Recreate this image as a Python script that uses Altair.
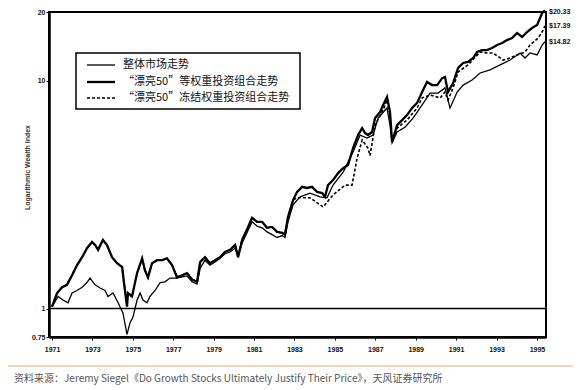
import altair as alt
import pandas as pd

# ---- data ----
ew_years = [1971.00, 1971.25, 1971.50, 1971.74, 1971.99, 1972.24, 1972.49, 1972.73, 1972.98, 1973.13,
            1973.28, 1973.52, 1973.72, 1973.97, 1974.22, 1974.47, 1974.56, 1974.71, 1974.76, 1974.96,
            1975.21, 1975.46, 1975.60, 1975.75, 1975.95, 1976.20, 1976.45, 1976.69, 1976.94, 1977.19,
            1977.44, 1977.68, 1977.93, 1978.18, 1978.33, 1978.57, 1978.82, 1979.07, 1979.32, 1979.56,
            1979.81, 1980.06, 1980.21, 1980.41, 1980.65, 1980.90, 1981.15, 1981.40, 1981.64, 1981.89,
            1982.14, 1982.39, 1982.53, 1982.68, 1982.93, 1983.13, 1983.38, 1983.62, 1983.87, 1984.12,
            1984.37, 1984.51, 1984.66, 1984.91, 1985.16, 1985.41, 1985.65, 1985.90, 1986.15, 1986.35,
            1986.49, 1986.64, 1986.84, 1986.99, 1987.24, 1987.39, 1987.58, 1987.73, 1987.83, 1988.08,
            1988.33, 1988.57, 1988.82, 1989.07, 1989.32, 1989.56, 1989.81, 1990.06, 1990.31, 1990.45,
            1990.60, 1990.85, 1991.10, 1991.35, 1991.59, 1991.84, 1992.04, 1992.29, 1992.53, 1992.78,
            1993.03, 1993.28, 1993.52, 1993.77, 1994.02, 1994.27, 1994.51, 1994.76, 1995.01, 1995.26,
            1995.40]
ew_values = [1.02, 1.17, 1.24, 1.27, 1.40, 1.55, 1.68, 1.84, 1.96, 1.90,
             1.81, 2.00, 1.90, 1.68, 1.58, 1.52, 1.30, 1.02, 1.17, 1.13,
             1.43, 1.66, 1.47, 1.37, 1.58, 1.63, 1.63, 1.66, 1.55, 1.37,
             1.40, 1.43, 1.34, 1.31, 1.60, 1.68, 1.58, 1.63, 1.68, 1.77,
             1.81, 1.90, 1.68, 2.00, 2.22, 2.50, 2.40, 2.40, 2.26, 2.28,
             2.17, 2.15, 2.11, 2.52, 2.99, 3.25, 3.42, 3.38, 3.42, 3.25,
             3.21, 3.09, 3.48, 3.66, 3.93, 4.13, 4.26, 5.05, 5.77, 6.19,
             5.89, 5.77, 5.95, 6.85, 7.28, 7.82, 8.48, 7.28, 5.38, 6.38,
             6.71, 7.06, 7.58, 7.98, 8.91, 9.86, 9.56, 9.56, 10.25, 10.36,
             8.91, 9.76, 11.37, 11.95, 12.07, 12.56, 13.35, 13.62, 13.62, 13.89,
             14.33, 14.62, 15.06, 15.37, 16.17, 15.54, 16.34, 17.01, 17.53, 19.80,
             20.33]

mkt_years = [1971.00, 1971.30, 1971.54, 1971.79, 1971.99, 1972.24, 1972.49, 1972.73, 1972.88, 1973.13,
             1973.38, 1973.62, 1973.77, 1974.02, 1974.27, 1974.51, 1974.71, 1974.86, 1975.01, 1975.21,
             1975.36, 1975.50, 1975.70, 1975.85, 1976.10, 1976.35, 1976.59, 1976.84, 1977.09, 1977.34,
             1977.68, 1977.93, 1978.18, 1978.33, 1978.57, 1978.82, 1979.07, 1979.32, 1979.56, 1979.81,
             1980.06, 1980.21, 1980.41, 1980.65, 1980.90, 1981.15, 1981.40, 1981.64, 1981.89, 1982.14,
             1982.39, 1982.53, 1982.68, 1982.93, 1983.28, 1983.77, 1984.27, 1984.61, 1984.91, 1985.41,
             1985.90, 1986.25, 1986.59, 1986.89, 1987.14, 1987.58, 1987.73, 1987.83, 1988.08, 1988.48,
             1988.87, 1989.32, 1989.71, 1990.11, 1990.45, 1990.70, 1991.05, 1991.35, 1991.79, 1992.19,
             1992.68, 1993.18, 1993.67, 1994.17, 1994.41, 1994.66, 1995.01, 1995.26, 1995.40]
mkt_values = [1.02, 1.13, 1.09, 1.06, 1.17, 1.20, 1.24, 1.30, 1.36, 1.27,
              1.23, 1.20, 1.13, 1.17, 1.06, 0.956, 0.77, 0.865, 0.92, 1.09,
              1.17, 1.09, 1.06, 1.13, 1.20, 1.30, 1.31, 1.36, 1.36, 1.37,
              1.39, 1.31, 1.28, 1.50, 1.63, 1.55, 1.60, 1.66, 1.74, 1.77,
              1.84, 1.71, 1.94, 2.15, 2.40, 2.30, 2.26, 2.17, 2.11, 2.05,
              2.09, 2.05, 2.40, 2.85, 3.09, 3.21, 3.09, 3.06, 3.48, 3.97,
              4.86, 5.77, 5.60, 5.77, 6.85, 7.58, 6.38, 5.33, 5.95, 6.26,
              6.85, 7.82, 8.82, 8.82, 9.29, 7.58, 8.91, 9.56, 10.06, 10.80,
              11.14, 11.72, 12.31, 13.22, 12.56, 13.22, 12.96, 14.33, 14.82]

fz_years = [1971.00, 1971.25, 1971.50, 1971.74, 1971.99, 1972.24, 1972.49, 1972.73, 1972.98, 1973.13,
            1973.28, 1973.52, 1973.72, 1973.97, 1974.22, 1974.47, 1974.56, 1974.71, 1974.76, 1974.96,
            1975.21, 1975.46, 1975.60, 1975.75, 1975.95, 1976.20, 1976.45, 1976.69, 1976.94, 1977.19,
            1977.44, 1977.68, 1977.93, 1978.18, 1978.33, 1978.57, 1978.82, 1979.07, 1979.32, 1979.56,
            1979.81, 1980.06, 1980.21, 1980.41, 1980.65, 1980.90, 1981.15, 1981.40, 1981.64, 1981.89,
            1982.14, 1982.39, 1982.53, 1982.68, 1982.93, 1983.13, 1983.77, 1984.42, 1984.91, 1985.50,
            1985.85, 1986.10, 1986.35, 1986.64, 1986.74, 1986.99, 1987.39, 1987.58, 1987.73, 1987.83,
            1988.08, 1988.57, 1989.07, 1989.32, 1989.71, 1990.21, 1990.45, 1990.60, 1990.85, 1991.10,
            1991.59, 1992.19, 1992.53, 1992.83, 1993.33, 1993.67, 1994.02, 1994.41, 1994.66, 1995.06,
            1995.26, 1995.40]
fz_values = [1.02, 1.17, 1.24, 1.27, 1.40, 1.55, 1.68, 1.84, 1.96, 1.90,
             1.81, 2.00, 1.90, 1.68, 1.58, 1.52, 1.30, 1.08, 1.15, 1.13,
             1.43, 1.66, 1.47, 1.37, 1.58, 1.63, 1.63, 1.66, 1.55, 1.37,
             1.40, 1.43, 1.34, 1.31, 1.60, 1.68, 1.58, 1.63, 1.68, 1.77,
             1.81, 1.90, 1.68, 2.00, 2.22, 2.50, 2.40, 2.40, 2.26, 2.28,
             2.17, 2.15, 2.11, 2.52, 2.99, 3.06, 3.06, 2.79, 3.15, 3.48,
             3.48, 4.57, 5.49, 5.05, 4.69, 6.38, 7.43, 8.22, 7.06, 5.38,
             6.19, 6.71, 7.58, 8.40, 8.65, 8.40, 8.91, 8.22, 9.29, 10.91,
             11.72, 13.35, 13.22, 13.22, 12.31, 12.56, 12.96, 13.35, 14.33, 15.37,
             16.34, 17.39]

legend_labels = ["整体市场走势", "“漂亮50”等权重投资组合走势", "“漂亮50”冻结权重投资组合走势"]
x_tick_years = list(range(1971, 1996))
y_tick_values = [0.75, 1, 10, 20]
y_title = "Logarithmic Wealth Index"
source_text = "资料来源：Jeremy Siegel《Do Growth Stocks Ultimately Justify Their Price》，天风证券研究所"

# ---- tables ----
df_ew = pd.DataFrame({"year": ew_years, "value": ew_values})
df_mkt = pd.DataFrame({"year": mkt_years, "value": mkt_values})
df_fz = pd.DataFrame({"year": fz_years, "value": fz_values})
df_end_top = pd.DataFrame({"year": [ew_years[-1]], "value": [ew_values[-1]]})
df_end_top["label"] = ["$%.2f" % v for v in df_end_top["value"]]
df_end = pd.DataFrame({
    "year": [fz_years[-1], mkt_years[-1]],
    "value": [fz_values[-1], mkt_values[-1]],
})
df_end["label"] = ["$%.2f" % v for v in df_end["value"]]
one = pd.DataFrame({"a": [0]})

W, H = 497, 325
AX_FONT = "Liberation Sans"

xs = alt.Scale(domain=[1970.85, 1995.45], nice=False, zero=False)
ys = alt.Scale(type="log", domain=[0.75, 20], nice=False)

x_enc = alt.X("year:Q", scale=xs, axis=alt.Axis(
    values=x_tick_years, labelExpr="datum.value % 2 == 1 ? datum.value : ''",
    title=None, grid=False, tickSize=3, labelPadding=5, domainWidth=2.5,
    domainColor="black", tickColor="black", labelFont=AX_FONT, labelFontSize=7,
    labelFontWeight="bold", labelColor="#111", labelFlush=False))
y_enc = alt.Y("value:Q", scale=ys, axis=alt.Axis(
    values=y_tick_values, format=".2~f", title=y_title, grid=False, tickSize=3,
    labelPadding=1, domainWidth=2.5, domainColor="black", tickColor="black",
    labelFont=AX_FONT, labelFontSize=7, labelFontWeight="bold", labelColor="#111",
    titleFont=AX_FONT, titleFontSize=7, titleFontWeight="bold", titleColor="#333",
    titleX=-19, titleY=155))

mkt_line = alt.Chart(df_mkt).mark_line(color="black", strokeWidth=1.3).encode(x=x_enc, y=y_enc)
ew_line = alt.Chart(df_ew).mark_line(color="black", strokeWidth=2.3).encode(x="year:Q", y="value:Q")
fz_line = alt.Chart(df_fz).mark_line(color="black", strokeWidth=1.6, strokeDash=[3, 2]).encode(
    x="year:Q", y="value:Q")

base_rule = alt.Chart(pd.DataFrame({"v": [1.0]})).mark_rule(color="black", strokeWidth=1.6).encode(
    y="v:Q")

end_labels = alt.Chart(df_end).mark_text(
    align="left", baseline="middle", dx=4, font=AX_FONT, fontSize=7, fontWeight="bold",
    color="#111").encode(x="year:Q", y="value:Q", text="label:N")
end_label_top = alt.Chart(df_end_top).mark_text(
    align="left", baseline="middle", dx=4, dy=2, font=AX_FONT, fontSize=7, fontWeight="bold",
    color="#111").encode(x="year:Q", y="value:Q", text="label:N")

# legend box
leg_box = alt.Chart(one).mark_rect(fill="white", stroke="black", strokeWidth=1.5).encode(
    x=alt.value(27), x2=alt.value(251), y=alt.value(41), y2=alt.value(97))
leg_rows = [53, 70, 86]
leg_styles = [dict(strokeWidth=1.3), dict(strokeWidth=2.3), dict(strokeWidth=1.6, strokeDash=[3, 2])]
leg_layers = []
for ry, st, lab in zip(leg_rows, leg_styles, legend_labels):
    leg_layers.append(alt.Chart(one).mark_rule(color="black", **st).encode(
        x=alt.value(38), x2=alt.value(66), y=alt.value(ry)))
    leg_layers.append(alt.Chart(one).mark_text(
        align="left", baseline="middle", font="Noto Sans CJK SC", fontSize=11,
        color="#111", text=lab).encode(x=alt.value(74), y=alt.value(ry)))

sep = alt.Chart(one).mark_rule(color="#f2c6a0", strokeWidth=1.5).encode(
    x=alt.value(-44), x2=alt.value(530), y=alt.value(354))
src = alt.Chart(one).mark_text(
    align="left", baseline="middle", font="Noto Sans CJK SC", fontSize=10,
    color="#555555", text=source_text).encode(x=alt.value(-35), y=alt.value(367))

chart = alt.layer(
    mkt_line, ew_line, fz_line, base_rule, end_labels, end_label_top, leg_box, *leg_layers, sep, src
).properties(
    width=W, height=H,
    autosize=alt.AutoSizeParams(type="none"),
    padding={"left": 41, "top": 4, "right": 27, "bottom": 48},
    background="white",
).configure_view(stroke="black", strokeWidth=2)

chart.save("out.html", embed_options={"renderer": "svg", "actions": False})
